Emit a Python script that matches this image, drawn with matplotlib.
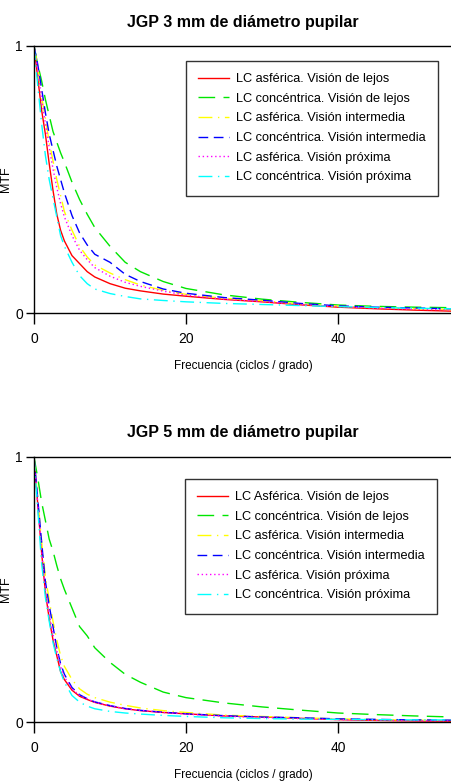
import numpy as np
import matplotlib
matplotlib.use('Agg')
import matplotlib.pyplot as plt

plt.rcParams['font.family'] = ['Liberation Sans', 'DejaVu Sans']

# frecuencia (ciclos / grado)
freq = [0, 0.5, 1, 1.5, 2, 2.5, 3, 3.5, 4, 5, 6, 7, 8, 10, 12, 14, 17, 20, 25, 30, 35, 40, 45, 50, 55]

# JGP 3 mm
mtf3_asf_lejos = [1, 0.88, 0.76, 0.67, 0.56, 0.46, 0.37, 0.31, 0.27, 0.215, 0.185, 0.155, 0.135, 0.11, 0.093, 0.083, 0.071, 0.063, 0.051, 0.042, 0.031, 0.022, 0.016, 0.011, 0.007]
mtf3_con_lejos = [1, 0.93, 0.87, 0.8, 0.74, 0.68, 0.64, 0.6, 0.565, 0.49, 0.425, 0.37, 0.32, 0.25, 0.19, 0.155, 0.118, 0.092, 0.068, 0.052, 0.04, 0.03, 0.025, 0.022, 0.02]
mtf3_asf_inter = [1, 0.92, 0.81, 0.73, 0.64, 0.57, 0.5, 0.44, 0.38, 0.31, 0.25, 0.21, 0.18, 0.15, 0.125, 0.105, 0.085, 0.07, 0.055, 0.046, 0.034, 0.026, 0.02, 0.016, 0.013]
mtf3_con_inter = [1, 0.93, 0.84, 0.75, 0.67, 0.61, 0.55, 0.5, 0.45, 0.365, 0.3, 0.255, 0.22, 0.19, 0.145, 0.118, 0.09, 0.074, 0.058, 0.048, 0.036, 0.027, 0.022, 0.019, 0.016]
mtf3_asf_prox = [1, 0.91, 0.8, 0.71, 0.62, 0.54, 0.47, 0.41, 0.36, 0.29, 0.235, 0.2, 0.17, 0.138, 0.115, 0.1, 0.082, 0.067, 0.052, 0.043, 0.032, 0.024, 0.018, 0.014, 0.012]
mtf3_con_prox = [1, 0.85, 0.71, 0.59, 0.5, 0.43, 0.36, 0.29, 0.25, 0.19, 0.14, 0.11, 0.09, 0.073, 0.062, 0.053, 0.047, 0.042, 0.036, 0.032, 0.028, 0.024, 0.021, 0.018, 0.016]

# JGP 5 mm
mtf5_asf_lejos = [1, 0.82, 0.64, 0.49, 0.39, 0.31, 0.25, 0.19, 0.16, 0.12, 0.097, 0.085, 0.074, 0.06, 0.05, 0.043, 0.036, 0.031, 0.023, 0.019, 0.014, 0.009, 0.006, 0.004, 0.003]
mtf5_con_lejos = [1, 0.92, 0.83, 0.76, 0.69, 0.645, 0.59, 0.54, 0.5, 0.43, 0.36, 0.325, 0.28, 0.225, 0.18, 0.15, 0.113, 0.092, 0.072, 0.057, 0.045, 0.034, 0.028, 0.023, 0.019]
mtf5_asf_inter = [1, 0.84, 0.68, 0.55, 0.46, 0.38, 0.31, 0.25, 0.21, 0.16, 0.125, 0.105, 0.092, 0.075, 0.063, 0.053, 0.043, 0.036, 0.026, 0.021, 0.016, 0.012, 0.009, 0.007, 0.006]
mtf5_con_inter = [1, 0.84, 0.68, 0.53, 0.44, 0.36, 0.28, 0.22, 0.18, 0.13, 0.103, 0.088, 0.076, 0.062, 0.051, 0.044, 0.037, 0.031, 0.024, 0.019, 0.016, 0.012, 0.01, 0.008, 0.007]
mtf5_asf_prox = [1, 0.82, 0.65, 0.5, 0.41, 0.33, 0.27, 0.21, 0.17, 0.125, 0.1, 0.087, 0.075, 0.061, 0.05, 0.044, 0.036, 0.03, 0.022, 0.017, 0.013, 0.009, 0.007, 0.005, 0.004]
mtf5_con_prox = [1, 0.8, 0.6, 0.47, 0.38, 0.3, 0.24, 0.19, 0.15, 0.1, 0.075, 0.06, 0.05, 0.04, 0.034, 0.03, 0.025, 0.021, 0.016, 0.013, 0.011, 0.01, 0.009, 0.008, 0.008]

labels3 = ['LC asférica. Visión de lejos', 'LC concéntrica. Visión de lejos',
           'LC asférica. Visión intermedia', 'LC concéntrica. Visión intermedia',
           'LC asférica. Visión próxima', 'LC concéntrica. Visión próxima']
labels5 = ['LC Asférica. Visión de lejos'] + labels3[1:]

colors = ['#ff0000', '#00e600', '#ffff00', '#0000ff', '#ff00ff', '#00ffff']
styles = ['-', (0, (12, 6)), (0, (10, 4, 1, 4)), (0, (7, 4)), (0, (1, 2)), (0, (10, 4, 1, 4))]

fig = plt.figure(figsize=(4.52, 7.82), dpi=100)
ax1 = fig.add_axes([0.0752, 0.5997, 0.9248, 0.3415])
ax2 = fig.add_axes([0.0752, 0.0767, 0.9248, 0.339])

panels = [
    (ax1, 'JGP 3 mm de diámetro pupilar', labels3,
     [mtf3_asf_lejos, mtf3_con_lejos, mtf3_asf_inter, mtf3_con_inter, mtf3_asf_prox, mtf3_con_prox],
     (0.9665, 0.944)),
    (ax2, 'JGP 5 mm de diámetro pupilar', labels5,
     [mtf5_asf_lejos, mtf5_con_lejos, mtf5_asf_inter, mtf5_con_inter, mtf5_asf_prox, mtf5_con_prox],
     (0.964, 0.917)),
]

for ax, title, labels, series, anchor in panels:
    for y, lab, c, ls in zip(series, labels, colors, styles):
        ax.plot(freq, y, color=c, linestyle=ls, linewidth=1.0, label=lab)
    ax.set_xlim(0, 55)
    ax.set_ylim(0, 1)
    ax.set_xticks([0, 20, 40])
    ax.set_yticks([0, 1])
    ax.set_yticklabels(['0', '1'])
    ax.tick_params(axis='x', direction='out', length=8, width=1, labelsize=10, pad=6)
    ax.tick_params(axis='y', direction='out', length=6, width=1, labelsize=10, pad=2)
    for s in ax.spines.values():
        s.set_linewidth(1.0)
        s.set_color('black')
    ax.set_title(title, fontsize=11.5, fontweight='bold', pad=14)
    ax.set_xlabel('Frecuencia (ciclos / grado)', fontsize=8.5, labelpad=10)
    ax.set_ylabel('MTF', fontsize=9)
    ax.yaxis.set_label_coords(-0.053, 0.5)
    leg = ax.legend(loc='upper right', bbox_to_anchor=anchor, fontsize=9.2,
                    frameon=True, fancybox=False, shadow=False, handlelength=2.4,
                    labelspacing=0.6, borderpad=0.95, handletextpad=0.6,
                    borderaxespad=0)
    leg.get_frame().set_edgecolor('black')
    leg.get_frame().set_linewidth(1.0)

fig.savefig('out.png', dpi=100)
